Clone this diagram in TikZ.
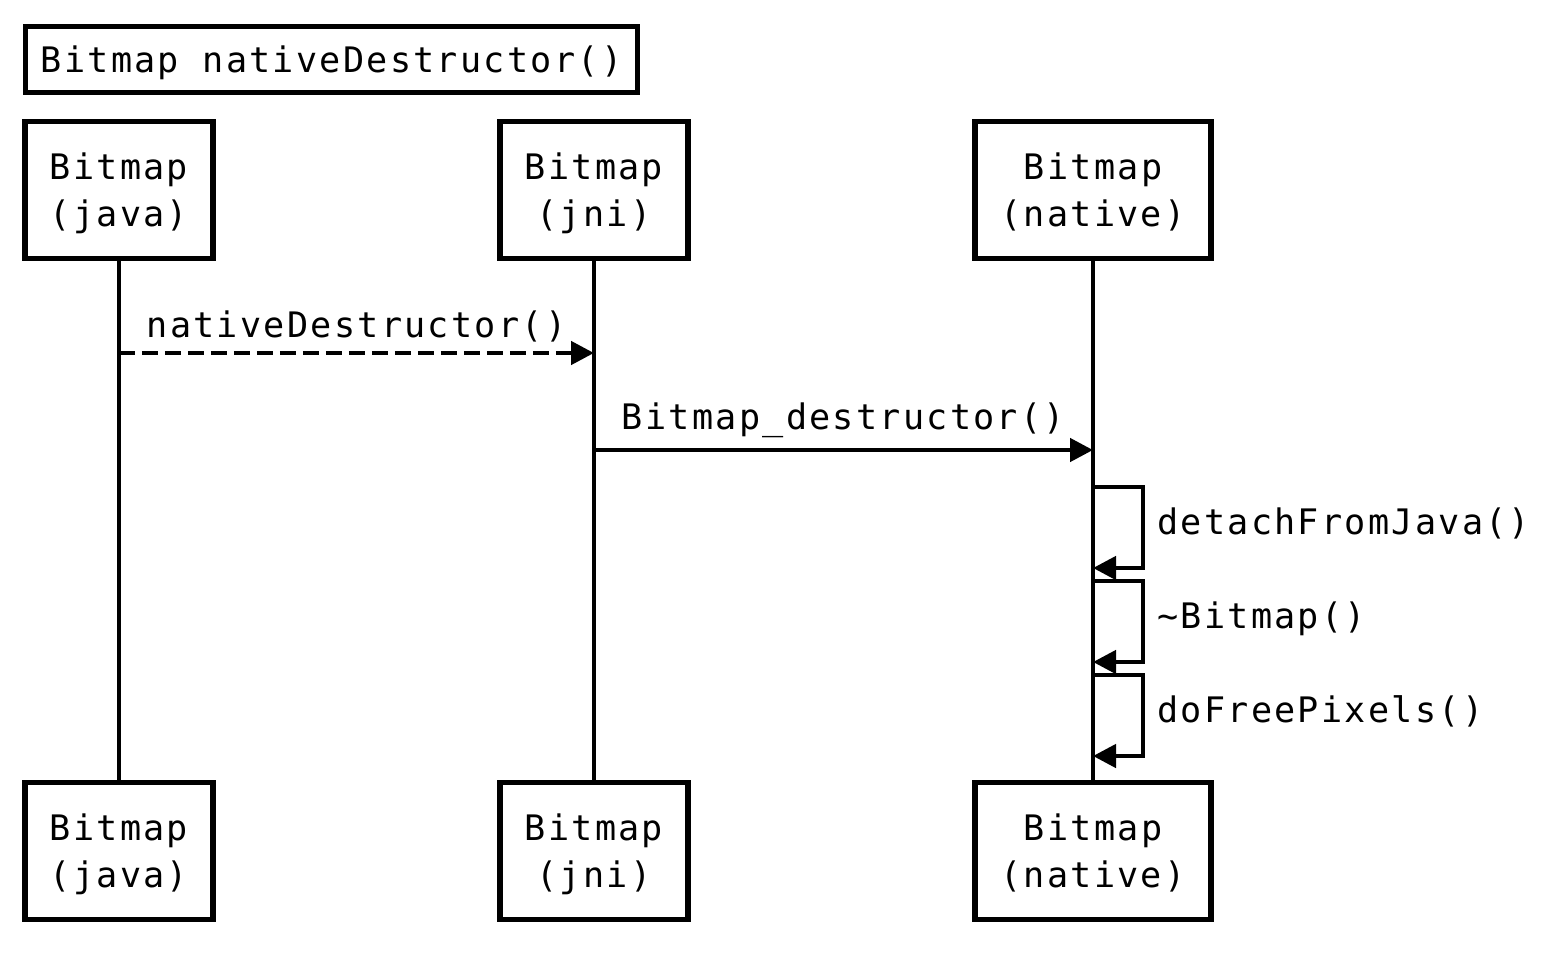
\documentclass[tikz,border=0pt]{standalone}
\usepackage{fontspec}
\newfontfamily\seqfont{DejaVu Sans Mono}[LetterSpace=6.5]
\usepackage{tikz}
\usetikzlibrary{arrows.meta}

\tikzset{
  lane/.style={rectangle, draw, line width=3pt, inner sep=0pt, minimum height=2.75cm,
    text depth=0pt, align=center, font=\seqfont\fontsize{20}{26.7}\selectfont},
  lifeline/.style={line width=2.6pt},
  msg/.style={line width=2.6pt, -{Triangle[length=0.46cm, width=0.46cm]}},
  reply/.style={msg, dash pattern=on 0.32cm off 0.14cm},
  msgtext/.style={inner sep=0pt, font=\seqfont\fontsize{20}{24}\selectfont}
}

\begin{document}
\begin{tikzpicture}[x=0.02cm, y=-0.02cm]
  % Canvas
  \useasboundingbox[fill=white] (0,0) rectangle (1544,953);

  % Title
  \node[lane, minimum width=12.25cm, minimum height=1.33cm] (title) at (331.5,59.5) {Bitmap nativeDestructor()};

  % Participants, top row
  \node[lane, minimum width=3.76cm] (javatop) at (119,190) {Bitmap\\(java)};
  \node[lane, minimum width=3.76cm] (jnitop) at (594,190) {Bitmap\\(jni)};
  \node[lane, minimum width=4.72cm] (nativetop) at (1093,190) {Bitmap\\(native)};

  % Participants, bottom row
  \node[lane, minimum width=3.76cm] (javabot) at (119,851) {Bitmap\\(java)};
  \node[lane, minimum width=3.76cm] (jnibot) at (594,851) {Bitmap\\(jni)};
  \node[lane, minimum width=4.72cm] (nativebot) at (1093,851) {Bitmap\\(native)};

  % Lifelines
  \draw[lifeline] (javatop) -- (javabot);
  \draw[lifeline] (jnitop) -- (jnibot);
  \draw[lifeline] (nativetop) -- (nativebot);

  % Calls between lifelines
  \coordinate (call1a) at (119,353);
  \coordinate (call1b) at (594,353);
  \draw[reply] (call1a) -- (call1b) node[msgtext, midway, anchor=base, yshift=0.32cm] {nativeDestructor()};

  \coordinate (call2a) at (594,450);
  \coordinate (call2b) at (1093,450);
  \draw[msg] (call2a) -- (call2b) node[msgtext, midway, anchor=base, yshift=0.42cm] {Bitmap\_destructor()};

  % Self calls on the native lifeline
  \coordinate (self1a) at (1093,487);
  \coordinate (self1b) at (1093,568);
  \draw[msg] (self1a) -- ++(50,0) |- (self1b);
  \node[msgtext, anchor=base west] (self1txt) at (1157,534) {detachFromJava()};

  \coordinate (self2a) at (1093,581);
  \coordinate (self2b) at (1093,662);
  \draw[msg] (self2a) -- ++(50,0) |- (self2b);
  \node[msgtext, anchor=base west] (self2txt) at (1157,628) {\textasciitilde Bitmap()};

  \coordinate (self3a) at (1093,675);
  \coordinate (self3b) at (1093,756);
  \draw[msg] (self3a) -- ++(50,0) |- (self3b);
  \node[msgtext, anchor=base west] (self3txt) at (1157,722) {doFreePixels()};

\end{tikzpicture}
\end{document}
